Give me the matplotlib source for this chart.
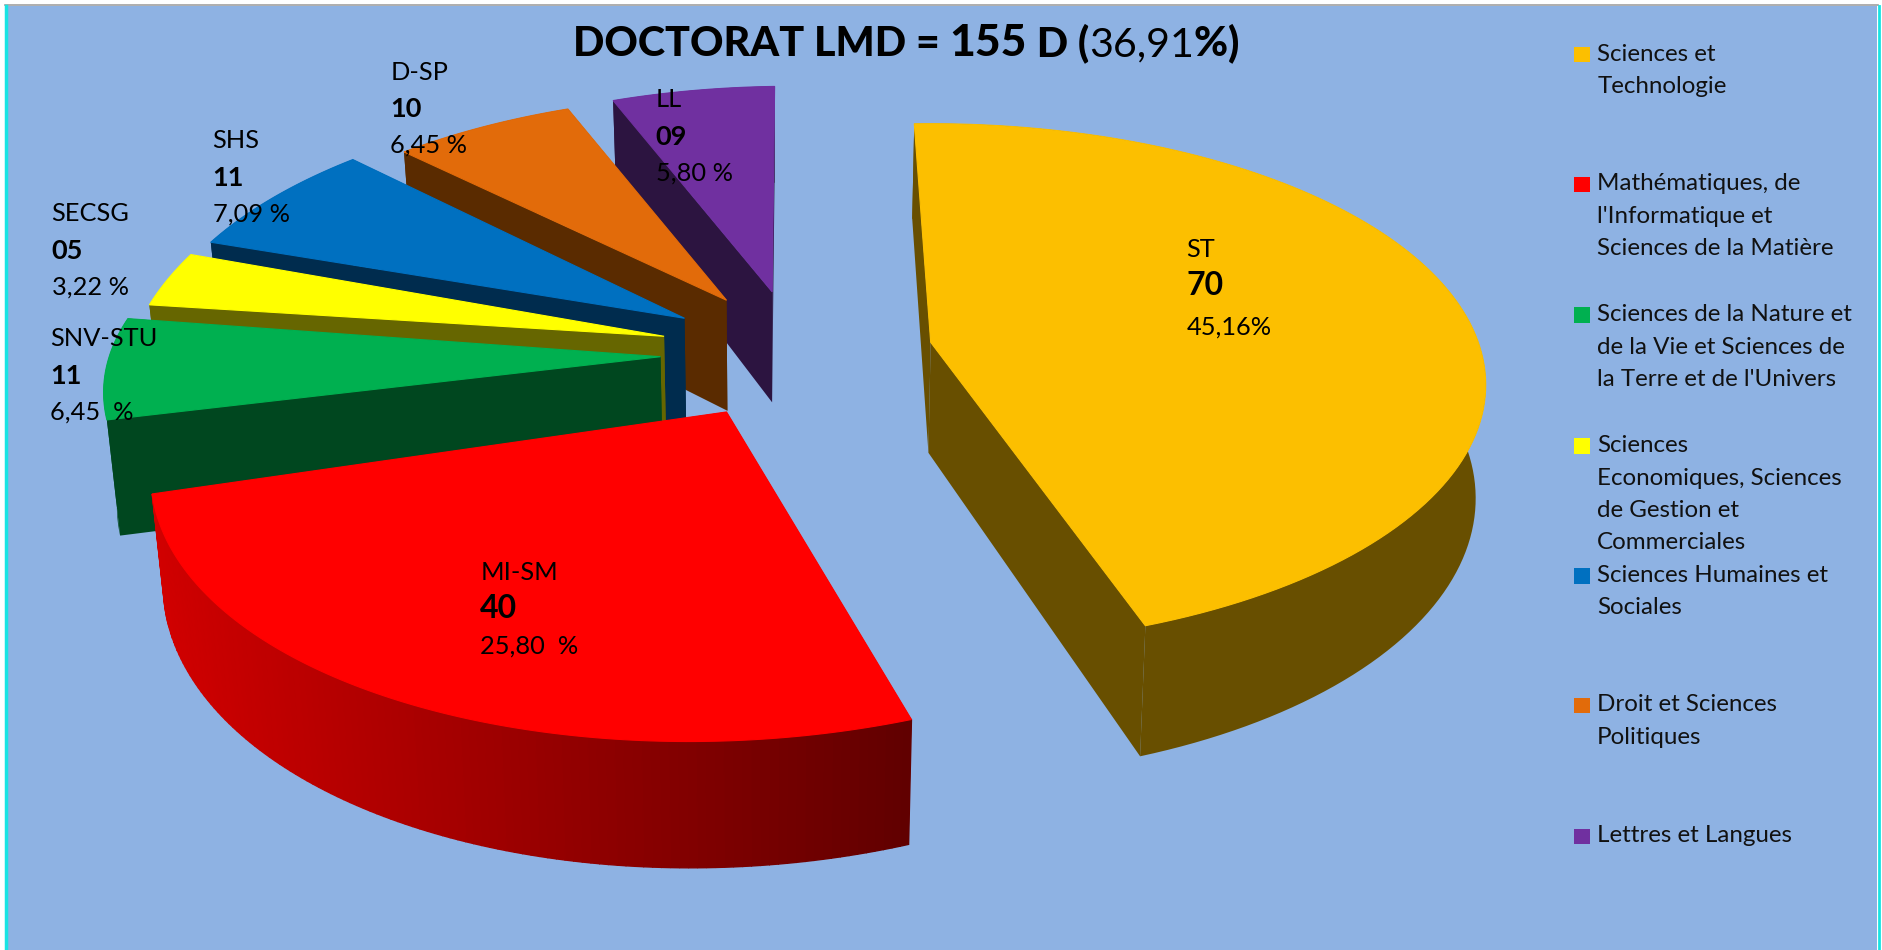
import numpy as np
import matplotlib.pyplot as plt
from matplotlib.patches import Rectangle

codes = ['ST', 'MI-SM', 'SNV-STU', 'SECSG', 'SHS', 'D-SP', 'LL']
counts = ['70', '40', '11', '05', '11', '10', '09']
shares = [45.16, 25.80, 6.45, 3.22, 7.09, 6.45, 5.80]
pct_labels = ['45,16%', '25,80  %', '6,45  %', '3,22 %', '7,09 %', '6,45 %', '5,80 %']
legend_labels = [
    ['Sciences et', 'Technologie'],
    ['Mathématiques, de', "l'Informatique et", 'Sciences de la Matière'],
    ['Sciences de la Nature et', 'de la Vie et Sciences de', "la Terre et de l'Univers"],
    ['Sciences', 'Economiques, Sciences', 'de Gestion et', 'Commerciales'],
    ['Sciences Humaines et', 'Sociales'],
    ['Droit et Sciences', 'Politiques'],
    ['Lettres et Langues'],
]

colors = ['#FCBF00', '#FF0000', '#00B050', '#FFFF00', '#0070C0', '#E26B0A', '#7030A0']
side_colors = ['#684F00', '#8A0000', '#00471F', '#666600', '#002C4E', '#5A2B00', '#2C1440']

# layout, in the px of the 1568 wide view
center = (640, 270)
explode = [(135, 15), (-35, 73), (-90, 27), (-87, 10), (-70, -5), (-35, -20), (3, -27)]
radius_scale = [1.0, 1.0, 0.97, 0.93, 0.93, 0.9, 0.9]
stretch_x = [0.96, 0.985, 0.99, 1.0, 1.0, 1.0, 1.0]
stretch_y = [1.0, 1.085, 1.0, 1.15, 1.07, 1.03, 1.03]
shear = [0.0, -0.115, -0.05, -0.09, -0.09, -0.09, -0.088]
tilt = [0.0, 0.0, 0.018, 0.0, 0.0, 0.0, 0.0]
depths = [92, 88, 92, 92, 92, 92, 92]
shrinks = [0.014, 0.02, 0.02, 0.02, 0.02, 0.02, 0.02]
label_pos = [(988, 208), (400, 477), (42, 282), (43, 178), (177, 117), (325, 60), (546, 83)]
legend_y = [45, 153, 262, 371, 479, 587, 696]
start_angle = 92
rx, ry, persp = 475.0, 211.7, 0.163
vanish_x = 640.0


def project(theta, i, apex):
    r = radius_scale[i]
    x = r * np.cos(theta)
    y = r * np.sin(theta)
    w = 1 + persp * y
    dy = -ry * y / w * stretch_y[i]
    dx = rx * x / w * stretch_x[i] + shear[i] * dy
    return apex[0] + dx, apex[1] + dy + tilt[i] * dx, w


def lower(px, py, w, i):
    return px + (vanish_x - px) * shrinks[i], py + depths[i] / w


plt.rcParams['font.family'] = ['Lato', 'DejaVu Sans']
fig = plt.figure(figsize=(18.83, 9.5), dpi=100, facecolor='white')
ax = fig.add_axes([0, 0, 1, 1])
ax.set_xlim(0, 1568)
ax.set_ylim(791, 0)
ax.axis('off')

ax.add_patch(Rectangle((5, 5), 1558, 790, facecolor='#8EB2E3', edgecolor='none', zorder=0))
ax.plot([4, 1564], [4.5, 4.5], color='#A0A0A0', lw=1.2, zorder=1)
ax.plot([5, 5], [5, 791], color='#19E3E3', lw=2.5, zorder=1)
ax.plot([1565, 1565], [5, 791], color='#19E3E3', lw=2, zorder=1)

edges = start_angle - np.cumsum([0] + shares) * 360 / sum(shares)
draw_order = [6, 5, 4, 3, 2, 1, 0]

for rank, i in enumerate(draw_order):
    apex = (center[0] + explode[i][0], center[1] + explode[i][1])
    t = np.radians(np.linspace(edges[i], edges[i + 1], 120))
    px, py, w = project(t, i, apex)
    lx, ly = lower(px, py, w, i)
    ax_low, ay_low = lower(apex[0], apex[1], 1.0, i)
    z = 2 + rank * 3

    # the two flat cut faces
    ax.fill([apex[0], px[0], lx[0], ax_low], [apex[1], py[0], ly[0], ay_low], color=side_colors[i], lw=0, zorder=z)
    ax.fill([apex[0], px[-1], lx[-1], ax_low], [apex[1], py[-1], ly[-1], ay_low], color=side_colors[i], lw=0, zorder=z)

    # outer wall, MI-SM has a shaded one
    if codes[i] == 'MI-SM':
        for k in range(len(t) - 1):
            f = (px[k] - px.min()) / (px.max() - px.min())
            col = (0.82 - 0.44 * f, 0, 0)
            ax.fill([px[k], px[k + 1], lx[k + 1], lx[k]], [py[k], py[k + 1], ly[k + 1], ly[k]], color=col, lw=1.0, zorder=z + 1)
    else:
        ax.fill(np.r_[px, lx[::-1]], np.r_[py, ly[::-1]], color=side_colors[i], lw=0, zorder=z + 1)

    ax.fill(np.r_[apex[0], px], np.r_[apex[1], py], color=colors[i], lw=0.8, zorder=z + 2)

for i in range(len(codes)):
    x, y = label_pos[i]
    big = i < 2
    ax.text(x, y, codes[i], fontsize=18.3, va='center', ha='left', zorder=40)
    ax.text(x, y + (30 if big else 31), counts[i], fontsize=23 if big else 19.5, fontweight='bold',
            va='center', ha='left', zorder=40)
    ax.text(x, y + (64 if i == 0 else 61), pct_labels[i], fontsize=18.3, va='center', ha='left', zorder=40)

for i, lines in enumerate(legend_labels):
    ax.add_patch(Rectangle((1311, legend_y[i] - 6), 13, 13, facecolor=colors[i], edgecolor='none', zorder=5))
    for j, line in enumerate(lines):
        ax.text(1330, legend_y[i] + j * 27, line, fontsize=17.4, va='center', ha='left', color='#111111', zorder=5)

# title, written piece by piece because the weights change inside it
fig.canvas.draw()
renderer = fig.canvas.get_renderer()
title_parts = [('DOCTORAT LMD = ', 29.7, 'black'), ('155', 32, 'black'), (' D (', 29.7, 'black'),
               ('36,91', 29.7, 'normal'), ('%', 29.7, 'black'), (')', 29.7, 'black')]
cursor = 477.0
inv = ax.transData.inverted()
for text, size, weight in title_parts:
    part = ax.text(cursor, 47, text.replace(' ', '\u00a0'), fontsize=size, fontweight=weight, va='baseline', ha='left', zorder=40)
    box = part.get_window_extent(renderer)
    cursor = inv.transform((box.x1, 0))[0]

fig.savefig('out.png', dpi=100, facecolor='white')
